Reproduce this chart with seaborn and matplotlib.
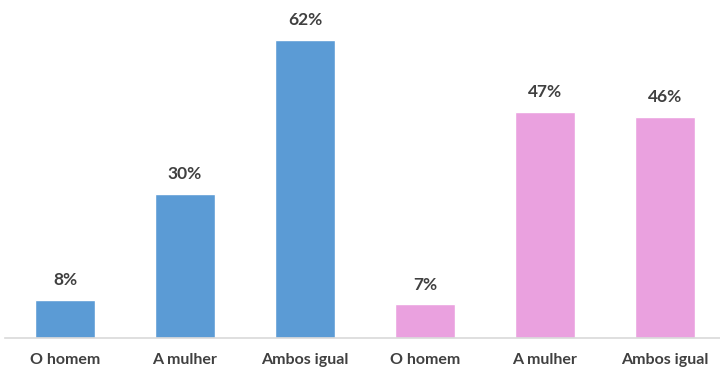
import matplotlib
matplotlib.use("Agg")
import matplotlib.pyplot as plt
import seaborn as sns
import pandas as pd

# Respostas por grupo (percentual)
grupos = ["Homens", "Homens", "Homens", "Mulheres", "Mulheres", "Mulheres"]
respostas = ["O homem", "A mulher", "Ambos igual", "O homem", "A mulher", "Ambos igual"]
valores = [8, 30, 62, 7, 47, 46]
cores = {"Homens": "#5B9BD5", "Mulheres": "#EAA1DF"}

df = pd.DataFrame({"grupo": grupos, "resposta": respostas, "valor": valores})
df["chave"] = [f"{g}|{r}" for g, r in zip(grupos, respostas)]

sns.set_style("white")
plt.rcParams["font.family"] = ["Lato", "DejaVu Sans"]

fig = plt.figure(figsize=(7.2, 3.67), dpi=100)
ax = fig.add_axes([5 / 720, 29 / 367, 1.0, 338 / 367])

sns.barplot(data=df, x="chave", y="valor", hue="grupo", palette=cores,
            dodge=False, width=0.5, legend=False, ax=ax, saturation=1)

ax.set_xlim(-0.5, len(valores) - 0.5)
ax.set_ylim(0, 70.33)

for patch, v in zip(ax.patches, valores):
    ax.annotate(f"{v}%", (patch.get_x() + patch.get_width() / 2, patch.get_height()),
                xytext=(0, 8.5), textcoords="offset points", ha="center", va="bottom",
                fontsize=12.5, fontweight="bold", color="#404040")

for side in ["top", "right", "left"]:
    ax.spines[side].set_visible(False)
ax.spines["bottom"].set_color("#D9D9D9")
ax.spines["bottom"].set_linewidth(1.2)

ax.set_yticks([])
ax.set_xticks(range(len(valores)))
ax.set_xticklabels(respostas, fontsize=11.5, fontweight="bold", color="#404040")
ax.tick_params(axis="x", which="major", length=0, pad=10.5)
ax.set_xticks([i - 0.5 for i in range(len(valores) + 1)], minor=True)
ax.tick_params(axis="x", which="minor", length=5, width=1.2, color="#D9D9D9", direction="out")
ax.set_xlabel("")
ax.set_ylabel("")

fig.savefig("out.png", dpi=100)
